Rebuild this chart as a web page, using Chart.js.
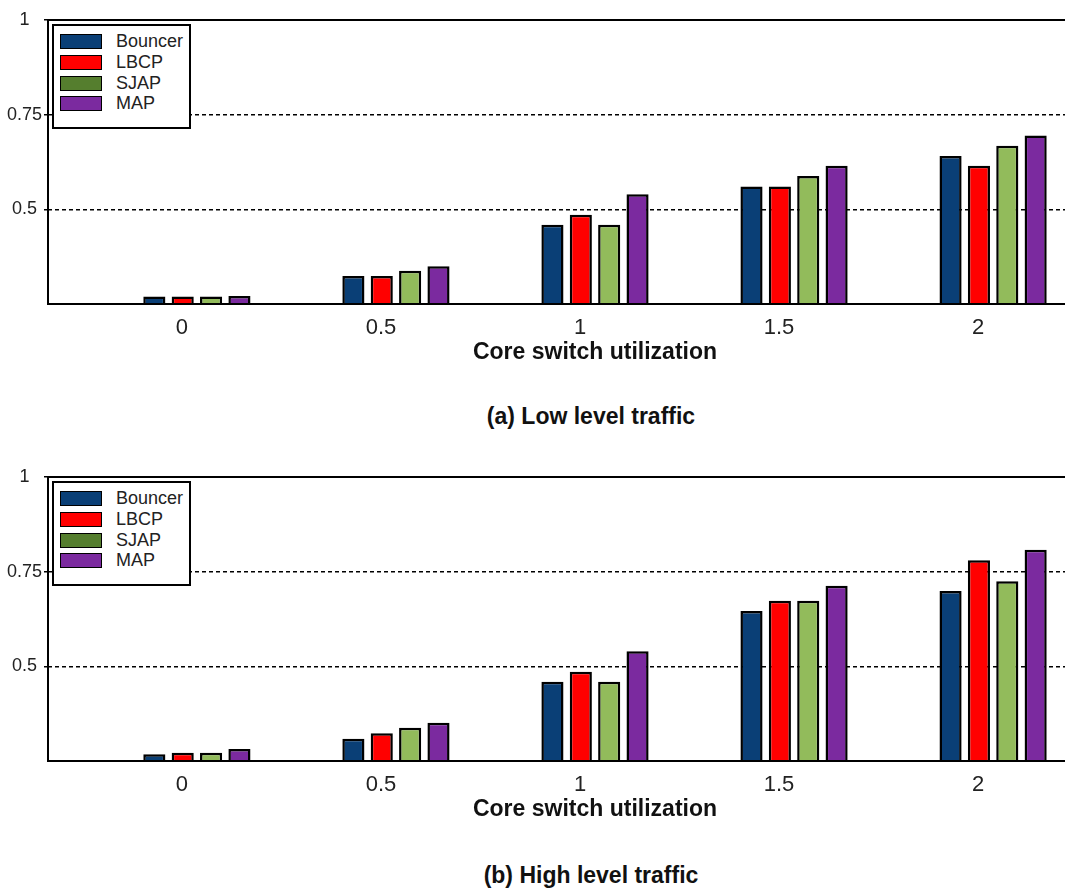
<!DOCTYPE html>
<html>
<head>
<meta charset="utf-8">
<script src="https://cdn.jsdelivr.net/npm/chart.js@4.4.1/dist/chart.umd.min.js"></script>
<style>
  html, body { margin: 0; padding: 0; background: #fff; overflow: hidden; width: 1065px; height: 888px; }
  body { position: relative; font-family: "Liberation Sans", Arial, sans-serif; }
  .panel { position: absolute; left: 0; width: 1150px; height: 370px; }
  .panel canvas { display: block; }
  .legend { position: absolute; left: 52px; width: 135px; height: 101px; border: 2px solid #000; background: #fff; }
  .legend .row { position: absolute; left: 6px; height: 15px; }
  .legend .sw { position: absolute; left: 0; top: 0; width: 40px; height: 13px; border: 1.5px solid #000; }
  .legend .lbl { position: absolute; left: 56px; top: -3px; font-size: 18px; color: #222; white-space: nowrap; }
  .caption { position: absolute; left: 391px; width: 400px; text-align: center; font-weight: bold; font-size: 23px; color: #111; }
</style>
</head>
<body>
<div class="panel" style="top:0px"><canvas id="lowChart" width="1150" height="370"></canvas></div>
<div class="legend" id="lowLegend" style="top:24px"></div>
<div class="caption" style="top:403px">(a) Low level traffic</div>

<div class="panel" style="top:457px"><canvas id="highChart" width="1150" height="370"></canvas></div>
<div class="legend" id="highLegend" style="top:481px"></div>
<div class="caption" style="top:862px">(b) High level traffic</div>

<script>
// core switch utilization (x categories)
const categories = ['0', '0.5', '1', '1.5', '2'];
const xValues = [0, 0.5, 1, 1.5, 2];
const seriesNames = ['Bouncer', 'LBCP', 'SJAP', 'MAP'];
const yTicks = [0.5, 0.75, 1];

// (a) low level traffic
const lowBouncer = [0.270, 0.324, 0.459, 0.560, 0.641];
const lowLBCP    = [0.270, 0.324, 0.486, 0.560, 0.615];
const lowSJAP    = [0.270, 0.338, 0.459, 0.588, 0.668];
const lowMAP     = [0.271, 0.350, 0.540, 0.615, 0.695];

// (b) high level traffic
const highBouncer = [0.268, 0.309, 0.459, 0.646, 0.699];
const highLBCP    = [0.272, 0.323, 0.486, 0.673, 0.780];
const highSJAP    = [0.272, 0.338, 0.459, 0.673, 0.725];
const highMAP     = [0.282, 0.351, 0.540, 0.713, 0.808];

const barColors = ['#0a3f76', '#ff0000', '#92bb5b', '#7b2a9f'];
const legendColors = ['#0a3f76', '#ff0000', '#557e2e', '#7b2a9f'];

const FONT = '"Liberation Sans", Arial, sans-serif';

// solid frame: top, left and bottom (right side runs off the page)
const framePlugin = {
  id: 'frame',
  afterDatasetsDraw(chart) {
    const a = chart.chartArea;
    const ctx = chart.ctx;
    ctx.save();
    ctx.strokeStyle = '#000';
    ctx.lineWidth = 2;
    ctx.beginPath();
    ctx.moveTo(a.right + 5, a.top);
    ctx.lineTo(a.left, a.top);
    ctx.lineTo(a.left, a.bottom);
    ctx.lineTo(a.right + 5, a.bottom);
    ctx.stroke();
    ctx.restore();
  }
};

function buildLegend(id) {
  const box = document.getElementById(id);
  seriesNames.forEach((name, i) => {
    const row = document.createElement('div');
    row.className = 'row';
    row.style.top = (8 + i * 20.8) + 'px';
    row.innerHTML = '<div class="sw" style="background:' + legendColors[i] + '"></div>' +
                    '<div class="lbl">' + name + '</div>';
    box.appendChild(row);
  });
}

function makeChart(canvasId, series) {
  new Chart(document.getElementById(canvasId), {
    type: 'bar',
    data: {
      datasets: series.map((vals, i) => ({
        label: seriesNames[i],
        data: xValues.map((x, j) => ({ x: x, y: vals[j] })),
        backgroundColor: barColors[i],
        borderColor: '#000',
        borderWidth: 2.5,
        categoryPercentage: 0.57,
        barPercentage: 0.78
      }))
    },
    options: {
      responsive: false,
      animation: false,
      layout: { padding: { top: 20, right: 8, left: 0, bottom: 6 } },
      plugins: { legend: { display: false }, tooltip: { enabled: false } },
      scales: {
        x: {
          type: 'linear',
          offset: false,
          min: -0.374,
          max: 2.374,
          afterBuildTicks: scale => { scale.ticks = xValues.map(v => ({ value: v })); },
          afterFit: scale => { scale.height = 60; },
          grid: { display: false },
          border: { display: false },
          ticks: {
            callback: (v) => categories[xValues.indexOf(v)],
            labelOffset: -15,
            padding: 3,
            color: '#222',
            font: { family: FONT, size: 22 },
            maxRotation: 0
          },
          title: {
            display: true,
            text: 'Core switch utilization',
            color: '#111',
            padding: 0,
            font: { family: FONT, size: 23, weight: 'bold', lineHeight: 1 }
          }
        },
        y: {
          min: 0.25,
          max: 1,
          afterBuildTicks: scale => { scale.ticks = [0.25].concat(yTicks).map(v => ({ value: v })); },
          afterFit: scale => { scale.width = 48; },
          border: { display: false, dash: [4, 3] },
          grid: {
            color: ctx => (ctx.tick && (ctx.tick.value === 0.5 || ctx.tick.value === 0.75)) ? '#000' : 'rgba(0,0,0,0)',
            tickColor: ctx => (ctx.tick && ctx.tick.value !== 0.25) ? '#000' : 'rgba(0,0,0,0)',
            lineWidth: 1.5,
            tickLength: 4
          },
          ticks: {
            callback: v => (yTicks.indexOf(v) >= 0 ? String(v) : ''),
            crossAlign: 'center',
            padding: 2,
            color: '#222',
            font: { family: FONT, size: 18 }
          }
        }
      }
    },
    plugins: [framePlugin]
  });
}

makeChart('lowChart', [lowBouncer, lowLBCP, lowSJAP, lowMAP]);
makeChart('highChart', [highBouncer, highLBCP, highSJAP, highMAP]);
buildLegend('lowLegend');
buildLegend('highLegend');
</script>
</body>
</html>
